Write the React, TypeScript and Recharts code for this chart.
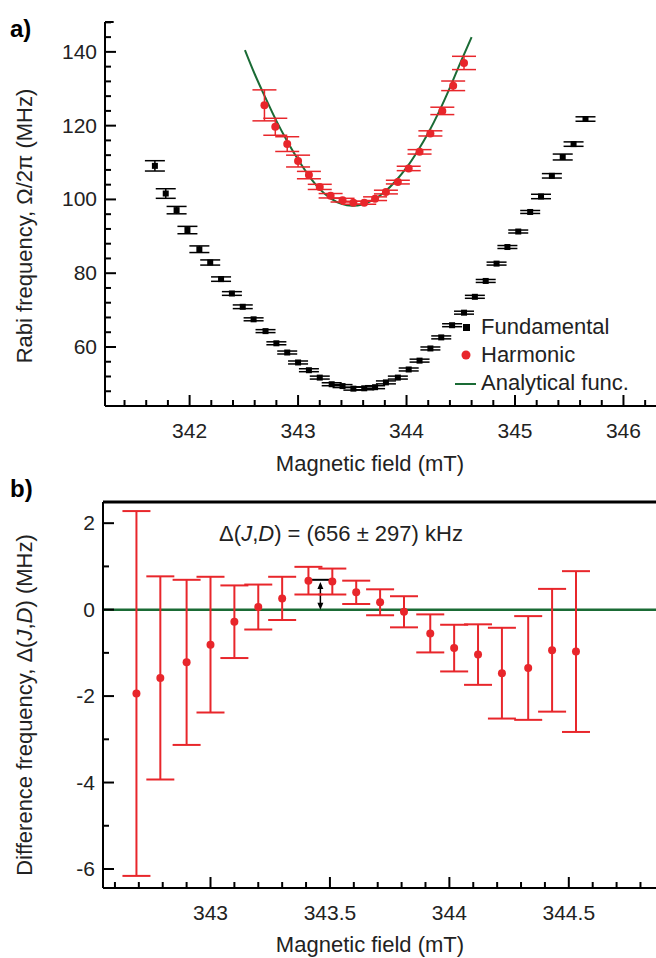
import { ComposedChart, Scatter, Line, XAxis, YAxis, ErrorBar, ReferenceLine } from "recharts";

// panel a) — fundamental transition
const fundX = [341.68, 341.78, 341.88, 341.98, 342.09, 342.19, 342.29, 342.39, 342.49, 342.59, 342.70, 342.80, 342.90, 343.00, 343.10, 343.20, 343.31, 343.41, 343.51, 343.61, 343.71, 343.81, 343.92, 344.02, 344.12, 344.22, 344.32, 344.42, 344.53, 344.63, 344.73, 344.83, 344.93, 345.03, 345.14, 345.24, 345.34, 345.44, 345.54, 345.65];
const fundY = [109.1, 101.6, 97.1, 91.7, 86.5, 82.9, 78.4, 74.5, 70.9, 67.5, 64.3, 61.0, 58.5, 55.8, 53.7, 51.7, 49.9, 49.4, 48.7, 48.8, 49.1, 50.4, 51.7, 53.9, 56.3, 59.6, 62.6, 65.9, 69.3, 73.6, 77.9, 82.6, 87.1, 91.3, 96.6, 100.8, 106.4, 111.5, 115.0, 121.8];
const fundErr = [1.4, 1.3, 1.0, 1.0, 0.9, 0.7, 0.6, 0.5, 0.5, 0.4, 0.4, 0.4, 0.4, 0.4, 0.4, 0.4, 0.4, 0.4, 0.4, 0.4, 0.4, 0.4, 0.4, 0.4, 0.4, 0.4, 0.4, 0.4, 0.4, 0.4, 0.4, 0.4, 0.4, 0.4, 0.4, 0.6, 0.6, 0.8, 0.6, 0.6];

// harmonic transition (shared field values with panel b)
const harmX = [342.69, 342.79, 342.90, 343.00, 343.10, 343.20, 343.30, 343.41, 343.51, 343.61, 343.71, 343.81, 343.92, 344.02, 344.12, 344.22, 344.33, 344.43, 344.53];
const harmY = [125.5, 119.7, 115.0, 110.4, 106.6, 103.4, 101.0, 99.8, 99.1, 99.1, 100.2, 102.0, 104.7, 108.4, 112.9, 117.9, 124.0, 130.8, 137.0];
const harmErr = [4.2, 2.3, 2.0, 1.6, 1.0, 0.7, 0.6, 0.5, 0.4, 0.4, 0.5, 0.5, 0.5, 0.6, 0.6, 0.7, 1.0, 1.3, 1.8];

// analytical curve
const fitX = [342.51, 342.6, 342.7, 342.8, 342.9, 343.0, 343.1, 343.2, 343.3, 343.4, 343.5, 343.6, 343.7, 343.8, 343.9, 344.0, 344.1, 344.2, 344.3, 344.4, 344.5, 344.6];
const fitY = [140.5, 134.0, 127.5, 121.3, 115.8, 110.8, 106.4, 102.8, 100.3, 98.8, 98.3, 98.7, 100.0, 102.1, 105.0, 108.6, 113.0, 118.0, 123.8, 130.3, 137.3, 144.0];

// panel b) — difference frequency
const diffY = [-1.94, -1.58, -1.22, -0.81, -0.28, 0.06, 0.26, 0.67, 0.65, 0.40, 0.17, -0.05, -0.55, -0.89, -1.04, -1.47, -1.35, -0.94, -0.97];
const diffErr = [4.22, 2.35, 1.91, 1.57, 0.84, 0.52, 0.5, 0.32, 0.3, 0.27, 0.3, 0.36, 0.44, 0.54, 0.7, 1.05, 1.2, 1.42, 1.86];

const topXTicks = [341.4, 341.6, 341.8, 342, 342.2, 342.4, 342.6, 342.8, 343, 343.2, 343.4, 343.6, 343.8, 344, 344.2, 344.4, 344.6, 344.8, 345, 345.2, 345.4, 345.6, 345.8, 346, 346.2];
const topYTicks = [48, 52, 56, 60, 64, 68, 72, 76, 80, 84, 88, 92, 96, 100, 104, 108, 112, 116, 120, 124, 128, 132, 136, 140, 144, 148];
const botXTicks = [342.6, 342.7, 342.8, 342.9, 343, 343.1, 343.2, 343.3, 343.4, 343.5, 343.6, 343.7, 343.8, 343.9, 344, 344.1, 344.2, 344.3, 344.4, 344.5, 344.6, 344.7, 344.8];
const botYTicks = [-6, -5, -4, -3, -2, -1, 0, 1, 2];
const legendLabels = ["Fundamental", "Harmonic", "Analytical func."];

const fundData = fundX.map((x, i) => ({ x, y: fundY[i], err: fundErr[i] }));
const harmData = harmX.map((x, i) => ({ x, y: harmY[i], err: harmErr[i] }));
const fitData = fitX.map((x, i) => ({ x, y: fitY[i] }));
const diffData = harmX.map((x, i) => ({ x, y: diffY[i], err: diffErr[i] }));

const FONT = "'Liberation Sans', Arial, sans-serif";
const RED = "#e8262b";
const GREEN = "#1a6b35";
const TICK_FS = 21;
const LABEL_FS = 22;

const near = (v: number, step: number) => Math.abs(v / step - Math.round(v / step)) < 1e-6;

function XTick({ x, y, payload, major }: any) {
  const isMajor = major(payload.value);
  return (
    <g>
      <line x1={x} x2={x} y1={y} y2={y - (isMajor ? 11 : 6)} stroke="#000" strokeWidth={2} />
      {isMajor && <text x={x} y={y + 32} textAnchor="middle" fontSize={TICK_FS} fontFamily={FONT} fill="#222">{String(payload.value)}</text>}
    </g>
  );
}

function YTick({ x, y, payload, major }: any) {
  const isMajor = major(payload.value);
  return (
    <g>
      <line x1={x} x2={x + (isMajor ? 11 : 6)} y1={y} y2={y} stroke="#000" strokeWidth={2} />
      {isMajor && <text x={x - 8} y={y + 7} textAnchor="end" fontSize={TICK_FS} fontFamily={FONT} fill="#222">{String(payload.value)}</text>}
    </g>
  );
}

const Square = (p: any) => <rect x={p.cx - 3} y={p.cy - 3} width={6} height={6} fill="#000" />;
const Dot = (p: any) => <circle cx={p.cx} cy={p.cy} r={4} fill={RED} />;

function ArrowMark(p: any) {
  const { x1, y1, x2, y2 } = p;
  return <line x1={x1} y1={y1} x2={x2} y2={y2} stroke="#000" strokeWidth={2} />;
}

function DoubleArrow(p: any) {
  const { x1, y1, x2, y2 } = p;
  const top = Math.min(y1, y2), bot = Math.max(y1, y2);
  return (
    <g>
      <line x1={x1} x2={x2} y1={top + 4} y2={bot - 4} stroke="#000" strokeWidth={1.5} />
      <polygon points={`${x1},${top} ${x1 - 3},${top + 7} ${x1 + 3},${top + 7}`} fill="#000" />
      <polygon points={`${x1},${bot} ${x1 - 3},${bot - 7} ${x1 + 3},${bot - 7}`} fill="#000" />
    </g>
  );
}

export default function App() {
  const icons = [
    <rect x={5} y={-3} width={7} height={7} fill="#000" />,
    <circle cx={8} cy={0} r={4.5} fill={RED} />,
    <line x1={-3} x2={18} y1={1} y2={1} stroke={GREEN} strokeWidth={2} />,
  ];
  return (
    <div style={{ position: "absolute", left: 0, top: 0, width: 656, height: 958, background: "#fff", fontFamily: FONT, overflow: "hidden" }}>
      <div style={{ position: "absolute", left: 10, top: 15, fontSize: 24, fontWeight: "bold" }}>a)</div>
      <div style={{ position: "absolute", left: 10, top: 475, fontSize: 24, fontWeight: "bold" }}>b)</div>

      <div style={{ position: "absolute", left: 0, top: 0 }}>
        <ComposedChart width={656} height={470} margin={{ top: 22, right: 0, left: 45, bottom: 34 }}>
          <XAxis type="number" dataKey="x" domain={[341.22, 346.3]} ticks={topXTicks} interval={0} allowDataOverflow height={30}
            tickSize={0} tickMargin={0} axisLine={{ stroke: "#000", strokeWidth: 2 }} tickLine={false}
            tick={<XTick major={(v: number) => near(v, 1)} />} />
          <YAxis type="number" dataKey="y" domain={[44, 148.1]} ticks={topYTicks} interval={0} allowDataOverflow width={60}
            tickSize={0} tickMargin={0} axisLine={{ stroke: "#000", strokeWidth: 2 }} tickLine={false}
            tick={<YTick major={(v: number) => near(v, 20)} />} />
          <ReferenceLine segment={[{ x: 341.22, y: 148.1 }, { x: 341.3, y: 148.1 }]} stroke="#000" strokeWidth={2} />
          <Line data={fitData} dataKey="y" type="monotone" stroke={GREEN} strokeWidth={2} dot={false} isAnimationActive={false} />
          <Scatter data={fundData} dataKey="y" shape={Square} isAnimationActive={false}>
            <ErrorBar dataKey="err" direction="y" width={10} stroke="#000" strokeWidth={1.5} />
          </Scatter>
          <Scatter data={harmData} dataKey="y" shape={Dot} isAnimationActive={false}>
            <ErrorBar dataKey="err" direction="y" width={12} stroke={RED} strokeWidth={1.5} />
          </Scatter>
        </ComposedChart>
      </div>
      <div style={{ position: "absolute", left: 0, top: 480 }}>
        <ComposedChart width={656} height={478} margin={{ top: 22, right: 0, left: 43, bottom: 40 }}>
          <XAxis type="number" dataKey="x" domain={[342.55, 344.865]} ticks={botXTicks} interval={0} allowDataOverflow height={30}
            tickSize={0} tickMargin={0} axisLine={{ stroke: "#000", strokeWidth: 2 }} tickLine={false}
            tick={<XTick major={(v: number) => near(v, 0.5)} />} />
          <YAxis type="number" dataKey="y" domain={[-6.44, 2.49]} ticks={botYTicks} interval={0} allowDataOverflow width={60}
            tickSize={0} tickMargin={0} axisLine={{ stroke: "#000", strokeWidth: 2 }} tickLine={false}
            tick={<YTick major={(v: number) => near(v, 2)} />} />
          <ReferenceLine y={2.49} stroke="#000" strokeWidth={3} />
          <ReferenceLine y={0} stroke={GREEN} strokeWidth={2.5} />
          <ReferenceLine segment={[{ x: 343.41, y: 0.69 }, { x: 343.51, y: 0.69 }]} shape={ArrowMark} />
          <ReferenceLine segment={[{ x: 343.46, y: 0.64 }, { x: 343.46, y: 0 }]} shape={DoubleArrow} />
          <Scatter data={diffData} dataKey="y" shape={Dot} isAnimationActive={false}>
            <ErrorBar dataKey="err" direction="y" width={14} stroke={RED} strokeWidth={2} />
          </Scatter>
        </ComposedChart>
      </div>

      <svg style={{ position: "absolute", left: 0, top: 0, pointerEvents: "none" }} width={656} height={958}>
        <text transform="translate(32,226) rotate(-90)" textAnchor="middle" fontSize={LABEL_FS} fontFamily={FONT} fill="#222">Rabi frequency, Ω/2π (MHz)</text>
        <text x={370} y={471} textAnchor="middle" fontSize={LABEL_FS} fontFamily={FONT} fill="#222">Magnetic field (mT)</text>
        {legendLabels.map((label, i) => (
          <g key={label} transform={`translate(458, ${327 + i * 28})`}>
            {icons[i]}
            <text x={23} y={7} fontSize={LABEL_FS} fontFamily={FONT} fill="#222">{label}</text>
          </g>
        ))}
        <text transform="translate(32,705) rotate(-90)" textAnchor="middle" fontSize={LABEL_FS} fontFamily={FONT} fill="#222">
          Difference frequency, Δ(<tspan fontStyle="italic">J</tspan>,<tspan fontStyle="italic">D</tspan>) (MHz)
        </text>
        <text x={341} y={541} textAnchor="middle" fontSize={LABEL_FS} fontFamily={FONT} fill="#222">
          Δ(<tspan fontStyle="italic">J</tspan>,<tspan fontStyle="italic">D</tspan>) = (656 ± 297) kHz
        </text>
        <text x={370} y={952} textAnchor="middle" fontSize={LABEL_FS} fontFamily={FONT} fill="#222">Magnetic field (mT)</text>
      </svg>
    </div>
  );
}
